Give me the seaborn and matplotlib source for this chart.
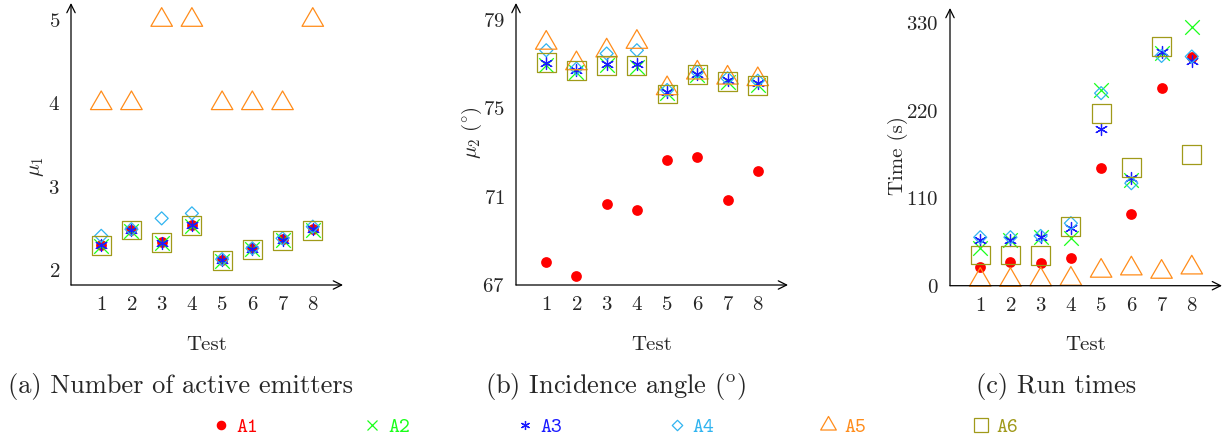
import matplotlib
matplotlib.use("Agg")
import matplotlib.pyplot as plt
from matplotlib.path import Path
from matplotlib.lines import Line2D
import pandas as pd
import seaborn as sns

# ------------------------------
# Data
# ------------------------------
tests = [1, 2, 3, 4, 5, 6, 7, 8]
series = ["A1", "A2", "A3", "A4", "A5", "A6"]

# (a) number of active emitters, mu_1
mu1_a1 = [2.30, 2.48, 2.34, 2.54, 2.12, 2.26, 2.37, 2.49]
mu1_a2 = [2.29, 2.47, 2.33, 2.53, 2.11, 2.25, 2.36, 2.48]
mu1_a3 = [2.30, 2.48, 2.33, 2.54, 2.12, 2.25, 2.36, 2.49]
mu1_a4 = [2.41, 2.49, 2.62, 2.68, 2.13, 2.26, 2.38, 2.52]
mu1_a5 = [4, 4, 5, 5, 4, 4, 4, 5]
mu1_a6 = [2.29, 2.48, 2.33, 2.53, 2.11, 2.25, 2.35, 2.47]

# (b) incidence angle, mu_2 (deg)
mu2_a1 = [68.02, 67.39, 70.68, 70.39, 72.66, 72.80, 70.86, 72.17]
mu2_a2 = [76.98, 76.65, 76.95, 76.85, 75.68, 76.50, 76.20, 76.05]
mu2_a3 = [77.06, 76.73, 77.03, 77.00, 75.75, 76.55, 76.28, 76.13]
mu2_a4 = [77.63, 76.80, 77.48, 77.63, 75.83, 76.65, 76.36, 76.25]
mu2_a5 = [77.96, 77.03, 77.61, 78.00, 75.90, 76.61, 76.38, 76.31]
mu2_a6 = [77.06, 76.73, 76.95, 76.95, 75.65, 76.55, 76.20, 76.05]

# (c) run times (s)
time_a1 = [23.9, 29.4, 29.0, 35.2, 147.7, 90.2, 248.3, 287.3]
time_a2 = [47.0, 57.5, 61.6, 59.6, 246.2, 133.0, 292.3, 324.5]
time_a3 = [57.5, 57.5, 61.6, 72.2, 196.7, 135.0, 294.3, 281.8]
time_a4 = [60.9, 60.9, 62.5, 78.5, 242.0, 128.8, 288.8, 288.0]
time_a5 = [7.2, 7.0, 7.7, 8.4, 18.5, 21.4, 17.2, 22.6]
time_a6 = [38.6, 38.6, 37.4, 74.2, 216.8, 148.4, 300.6, 164.4]

mu1_ticks = [2, 3, 4, 5]
mu2_ticks = [67, 71, 75, 79]
time_ticks = [0, 110, 220, 330]

captions = ["(a) Number of active emitters",
            r"(b) Incidence angle ($^{\mathrm{o}}$)",
            "(c) Run times"]

# ------------------------------
# Styles
# ------------------------------
colors = {"A1": "#ff0000", "A2": "#1aff1a", "A3": "#1a1aff",
          "A4": "#30b4f0", "A5": "#ff8c1a", "A6": "#a09a1a"}

# pgfplots-like triangle / diamond (centred like the tikz marks)
tri = Path([(0, 1), (-0.866, -0.5), (0.866, -0.5), (0, 1)], closed=True)
dia = Path([(0, 1), (1, 0), (0, -1), (-1, 0), (0, 1)], closed=True)
aster = (6, 2, 0)

mk = {"A1": "o", "A2": "x", "A3": aster, "A4": dia, "A5": tri, "A6": "s"}
size = {"A1": 60, "A2": 110, "A3": 75, "A4": 88, "A5": 320, "A6": 185}
hollow = {"A4", "A5", "A6"}

sns.set_style("white")
plt.rcParams["font.family"] = ["cmr10", "DejaVu Serif"]
plt.rcParams["mathtext.fontset"] = "cm"
plt.rcParams["axes.formatter.use_mathtext"] = True
plt.rcParams["font.size"] = 15


def long_frame(cols):
    rows = []
    for s, vals in zip(series, cols):
        for t, v in zip(tests, vals):
            rows.append({"Test": t, "value": v, "series": s})
    return pd.DataFrame(rows)


def draw(ax, df):
    for s in series:
        sub = df[df["series"] == s]
        kw = dict(marker=mk[s], s=size[s], color=colors[s], clip_on=False,
                  legend=False, zorder=3)
        if s in hollow:
            kw.update(facecolor="none", edgecolor=colors[s], linewidth=0.9)
        elif s == "A1":
            kw.update(edgecolor=colors[s], linewidth=0)
        else:
            kw.update(linewidth=0.9)
        sns.scatterplot(data=sub, x="Test", y="value", ax=ax, **kw)


def style_axis(ax, ylim, yticks, ylabel, ylab_xy):
    ax.set_xlim(0, 9)
    ax.set_ylim(*ylim)
    ax.set_xticks(tests)
    ax.set_yticks(yticks)
    ax.tick_params(length=0, pad=8, labelsize=15)
    for sp in ax.spines.values():
        sp.set_visible(False)
    ap = dict(arrowstyle="->", lw=0.9, color="black", shrinkA=0, shrinkB=0)
    ax.annotate("", xy=(1, 0), xytext=(0, 0), xycoords="axes fraction",
                arrowprops=ap)
    ax.annotate("", xy=(0, 1), xytext=(0, 0), xycoords="axes fraction",
                arrowprops=ap)
    ax.set_xlabel("Test", fontsize=15)
    ax.xaxis.set_label_coords(0.5, -0.18)
    ax.set_ylabel(ylabel, fontsize=15)
    ax.yaxis.set_label_coords(*ylab_xy)
    ax.grid(False)


W, H = 1231, 441
fig = plt.figure(figsize=(W / 100, H / 100), dpi=100)
ax_a = fig.add_axes([71 / W, (H - 285) / H, 272 / W, 282 / H])
ax_b = fig.add_axes([516 / W, (H - 285) / H, 272 / W, 282 / H])
ax_c = fig.add_axes([950 / W, (H - 285.7) / H, 272 / W, 277.7 / H])

draw(ax_a, long_frame([mu1_a1, mu1_a2, mu1_a3, mu1_a4, mu1_a5, mu1_a6]))
draw(ax_b, long_frame([mu2_a1, mu2_a2, mu2_a3, mu2_a4, mu2_a5, mu2_a6]))
draw(ax_c, long_frame([time_a1, time_a2, time_a3, time_a4, time_a5, time_a6]))

style_axis(ax_a, (1.82, 5.205), mu1_ticks, r"$\mu_1$", (-0.092, 0.42))
style_axis(ax_b, (67, 79.77), mu2_ticks, r"$\mu_2\ (^{\circ})$", (-0.116, 0.54))
style_axis(ax_c, (0, 349), time_ticks, "Time (s)", (-0.156, 0.47))

# sub-captions
for cx, txt in zip([181, 616, 1056], captions):
    fig.text(cx / W, (H - 386) / H, txt, ha="center", va="center", fontsize=19)

# shared legend
leg_ms = {"A1": 6, "A2": 7.5, "A3": 6.5, "A4": 7.5, "A5": 13, "A6": 9.5}
handles = []
for s in series:
    h = Line2D([], [], linestyle="none", marker=mk[s], markersize=leg_ms[s],
               color=colors[s], markeredgewidth=0.9,
               markerfacecolor="none" if s in hollow else colors[s])
    handles.append(h)
leg = fig.legend(handles, series, loc="center", bbox_to_anchor=(614 / W, 14 / H),
                 ncol=6, frameon=False, handlelength=1.0, handletextpad=0.25,
                 columnspacing=5.0, prop={"family": "cmtt10", "size": 15})
for t, s in zip(leg.get_texts(), series):
    t.set_color(colors[s])

fig.savefig("out.png", dpi=100)
